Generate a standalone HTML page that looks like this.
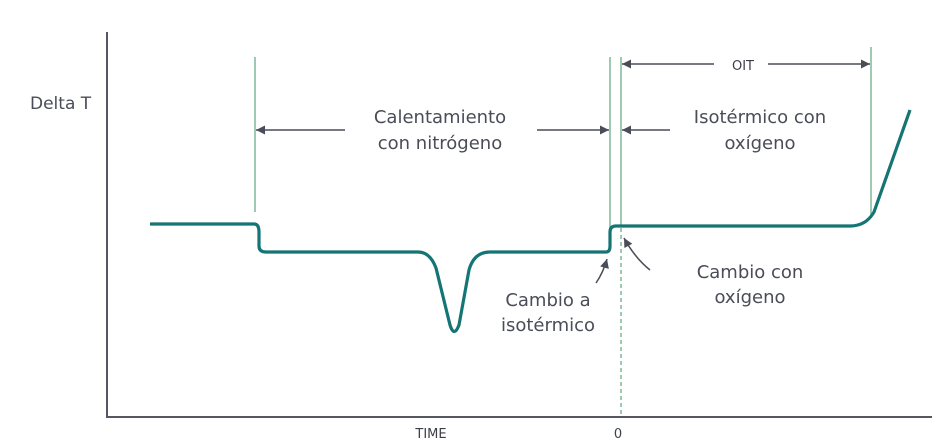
<!DOCTYPE html>
<html><head><meta charset="utf-8"><style>body{margin:0;background:#fff}svg{display:block}</style></head><body>
<svg width="932" height="445" viewBox="0 0 932 445" xmlns="http://www.w3.org/2000/svg" font-family="DejaVu Sans, sans-serif">
<defs><marker id="a" viewBox="0 0 10 10" refX="10" refY="5" markerWidth="12" markerHeight="9" orient="auto-start-reverse" markerUnits="userSpaceOnUse"><path d="M0,0 L10,5 L0,10 z" fill="#4a4d57"/></marker></defs>
<path d="M107,32 V417 H932" fill="none" stroke="#555862" stroke-width="2"/>
<g stroke="#7fb89c" stroke-width="1.5">
<line x1="255" y1="57" x2="255" y2="212"/>
<line x1="610" y1="57" x2="610" y2="250"/>
<line x1="621" y1="57" x2="621" y2="226"/>
<line x1="871" y1="47" x2="871" y2="215"/>
<line x1="621" y1="228" x2="621" y2="417" stroke-dasharray="4,3"/>
</g>
<path d="M150,224 H254 Q259,224 259,232 V246 Q259,252 266,252 H418 Q430,252 436,268 L450,325 Q454,338 459,325 L469,270 Q474,252 490,252 H606 Q610,252 610,246 V232 Q610,226 616,226 H850 Q866,226 874,212 L910,110" fill="none" stroke="#157474" stroke-width="3.2"/>
<g stroke="#4a4d57" stroke-width="1.5" fill="none">
<line x1="345" y1="130" x2="256" y2="130" marker-end="url(#a)"/>
<line x1="537" y1="130" x2="609" y2="130" marker-end="url(#a)"/>
<line x1="670" y1="130" x2="622" y2="130" marker-end="url(#a)"/>
<line x1="714" y1="64" x2="622" y2="64" marker-end="url(#a)"/>
<line x1="768" y1="64" x2="870" y2="64" marker-end="url(#a)"/>
<path d="M596,283 Q603,273 607,259" marker-end="url(#a)"/>
<path d="M650,270 Q635,258 624,238" marker-end="url(#a)"/>
</g>
<g fill="#4a4d57" font-size="18" text-anchor="middle">
<text x="30" y="109" font-size="17" text-anchor="start">Delta T</text>
<text x="440" y="123">Calentamiento</text>
<text x="440" y="149">con nitrógeno</text>
<text x="760" y="123">Isotérmico con</text>
<text x="760" y="149">oxígeno</text>
<text x="548" y="306">Cambio a</text>
<text x="548" y="331">isotérmico</text>
<text x="750" y="278">Cambio con</text>
<text x="750" y="303">oxígeno</text>
<text x="743" y="70" font-size="13" fill="#3c3f48">OIT</text>
<text x="431" y="438" font-size="13" fill="#3c3f48">TIME</text>
<text x="618" y="438" font-size="13" fill="#3c3f48">0</text>
</g>
</svg>
</body></html>
